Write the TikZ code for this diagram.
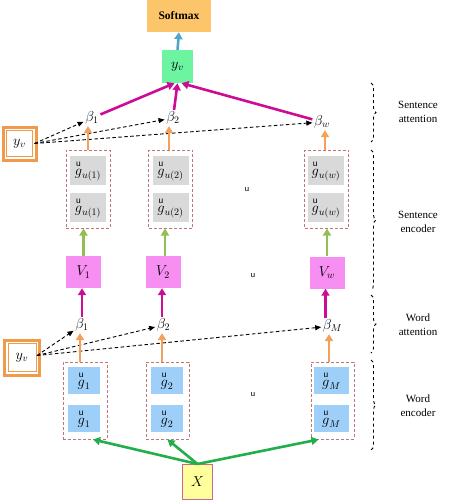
\RequirePackage{fix-cm}
\documentclass[tikz,border=0pt]{standalone}
\usepackage{fontspec}
\usepackage{amsmath}
\setmainfont{Liberation Serif}
\usetikzlibrary{arrows.meta,calc,decorations.pathreplacing}
\definecolor{softc}{HTML}{FDC56A}
\definecolor{bluec}{HTML}{4FA6C6}
\definecolor{mintc}{HTML}{6CF4A0}
\definecolor{magc}{HTML}{CC0C96}
\definecolor{orangec}{HTML}{F5A05A}
\definecolor{orangeb}{HTML}{F09A4C}
\definecolor{dashc}{HTML}{C07676}
\definecolor{grayc}{HTML}{D9D9D9}
\definecolor{olivec}{HTML}{92BE52}
\definecolor{violetc}{HTML}{F78EF2}
\definecolor{bluebox}{HTML}{9ECFF8}
\definecolor{xfill}{HTML}{FFFF9C}
\definecolor{xborder}{HTML}{CC6699}
\definecolor{greenc}{HTML}{22AE4A}
\newcommand{\gvec}[1]{$\overset{\textsf{u}}{g}_{#1}$}
\begin{document}
\begin{tikzpicture}[x=1pt,y=-1pt,
  mfont/.style={font=\fontsize{14.4}{16}\selectfont},
  softbox/.style={fill=softc,minimum width=64pt,minimum height=32pt,inner sep=0pt,font=\fontsize{11.5}{13}\selectfont\bfseries},
  ybox/.style={fill=mintc,minimum width=31pt,minimum height=33pt,inner sep=0pt,mfont},
  betanode/.style={inner sep=1.5pt,mfont},
  yvbox/.style={draw=orangeb,fill=white,line width=3pt,minimum width=#1,minimum height=#1,inner sep=0pt,mfont},
  dashbox/.style={draw=dashc,dashed,line width=1pt,dash pattern=on 3pt off 2pt,minimum width=44pt,minimum height=78pt,inner sep=0pt},
  graybox/.style={fill=grayc,minimum width=36pt,minimum height=29pt,inner sep=0pt,mfont},
  vbox/.style={fill=violetc,minimum width=35pt,minimum height=32pt,inner sep=0pt,mfont},
  bbox/.style={fill=bluebox,minimum width=32pt,minimum height=27pt,inner sep=0pt,mfont},
  xbox/.style={draw=xborder,fill=xfill,line width=1pt,minimum width=30pt,minimum height=35pt,inner sep=0pt,mfont},
  arr/.style={line width=2.6pt,-{Triangle[length=7pt,width=8pt]}},
  dasharr/.style={line width=0.9pt,dash pattern=on 3.5pt off 2.5pt,-{Triangle[length=6pt,width=5pt]}},
  bracestyle/.style={decorate,decoration={brace,amplitude=5pt},line width=0.9pt,dash pattern=on 3pt off 3pt},
  lbl/.style={align=center,font=\fontsize{11}{14}\selectfont},
  umark/.style={font=\sffamily\fontsize{9}{10}\selectfont,inner sep=0pt}]
\useasboundingbox (0,0) rectangle (454,500);

% top
\node[softbox] (soft) at (179,16) {Softmax};
\node[ybox] (ytop) at (177.5,66.5) {$y_v$};
\draw[arr,bluec] (ytop.north) -- (soft.south);

% sentence attention
\node[betanode] (bs1) at (92,118) {$\beta_1$};
\node[betanode] (bs2) at (173,118) {$\beta_2$};
\node[betanode] (bsw) at (322,122) {$\beta_w$};
\draw[arr,magc] (bs1) -- ([xshift=-3pt]ytop.south);
\draw[arr,magc] (bs2) -- (ytop.south);
\draw[arr,magc] (bsw) -- ([xshift=4pt]ytop.south);

\node[yvbox=33pt] (ys) at (19.5,143.5) {$y_v$};
\draw[orangeb,line width=0.8pt] ([shift={(5pt,5pt)}]ys.south west) rectangle ([shift={(-5pt,-5pt)}]ys.north east);
\coordinate (yso) at ([xshift=-3pt]ys.east);
\draw[dasharr] (yso) -- (bs1);
\draw[dasharr] (yso) -- (bs2);
\draw[dasharr] (yso) -- (bsw);

% sentence encoder
\node[dashbox] (sb1) at (88,189) {};
\node[dashbox] (sb2) at (170.5,189) {};
\node[dashbox] (sb3) at (326.5,189) {};
\node[graybox] (sg1a) at (88,170.5) {\gvec{u(1)}};
\node[graybox] (sg1b) at (88,207.5) {\gvec{u(1)}};
\node[graybox] (sg2a) at (170.5,170.5) {\gvec{u(2)}};
\node[graybox] (sg2b) at (170.5,207.5) {\gvec{u(2)}};
\node[graybox] (sg3a) at (326,170.5) {\gvec{u(w)}};
\node[graybox] (sg3b) at (326,207.5) {\gvec{u(w)}};
\node[umark] (u1) at (247,190) {u};
\draw[arr,orangec] (sb1.north) -- (sb1.north |- bs1.south);
\draw[arr,orangec] ([xshift=-1.5pt]sb2.north) -- ([xshift=-1.5pt]sb2.north |- bs2.south);
\draw[arr,orangec] ([xshift=-1.5pt]sb3.north) -- ([xshift=-1.5pt]sb3.north |- bsw.south);

% V
\node[vbox] (v1) at (83.5,272) {$V_1$};
\node[vbox] (v2) at (163,272) {$V_2$};
\node[vbox] (vw) at (327,272.5) {$V_w$};
\node[umark] (u2) at (253,276) {u};
\draw[arr,olivec] (v1.north) -- (v1.north |- sb1.south);
\draw[arr,olivec] ([xshift=2pt]v2.north) -- ([xshift=2pt]v2.north |- sb2.south);
\draw[arr,olivec] (vw.north) -- (vw.north |- sb3.south);

% word attention
\node[betanode] (bw1) at (82,325) {$\beta_1$};
\node[betanode] (bw2) at (163.5,325) {$\beta_2$};
\node[betanode] (bwm) at (332.5,326) {$\beta_M$};
\draw[arr,magc] (bw1.north) -- (bw1.north |- v1.south);
\draw[arr,magc] ([xshift=-1.5pt]bw2.north) -- ([xshift=-1.5pt]bw2.north |- v2.south);
\draw[arr,magc] ([xshift=-7pt]bwm.north) -- ([xshift=-7pt]bwm.north |- vw.south);

\node[yvbox=35pt] (yw) at (22,357.5) {$y_v$};
\draw[orangeb,line width=0.8pt] ([shift={(5pt,5pt)}]yw.south west) rectangle ([shift={(-5pt,-5pt)}]yw.north east);
\coordinate (ywo) at ([xshift=-4pt,yshift=2pt]yw.east);
\draw[dasharr] (ywo) -- (bw1);
\draw[dasharr] (ywo) -- (bw2);
\draw[dasharr] (ywo) -- (bwm);

% word encoder
\node[dashbox,minimum height=77pt] (wb1) at (85,400.5) {};
\node[dashbox,minimum height=77pt,minimum width=43pt] (wb2) at (167.5,400.5) {};
\node[dashbox,minimum height=77pt,minimum width=43pt] (wb3) at (332.5,400.5) {};
\node[bbox] (wg1a) at (84,380.5) {\gvec{1}};
\node[bbox] (wg1b) at (84,418.5) {\gvec{1}};
\node[bbox] (wg2a) at (167,380.5) {\gvec{2}};
\node[bbox] (wg2b) at (167,418.5) {\gvec{2}};
\node[bbox,minimum width=35pt] (wg3a) at (331.5,380.5) {\gvec{M}};
\node[bbox,minimum width=35pt] (wg3b) at (331.5,418.5) {\gvec{M}};
\node[umark] (u3) at (253,395) {u};
\draw[arr,orangec] ([xshift=-5pt]wb1.north) -- ([xshift=-5pt]wb1.north |- bw1.south);
\draw[arr,orangec] ([xshift=-5.5pt]wb2.north) -- ([xshift=-5.5pt]wb2.north |- bw2.south);
\draw[arr,orangec] ([xshift=-3.5pt]wb3.north) -- ([xshift=-3.5pt]wb3.north |- bwm.south);

% X
\node[xbox] (x) at (197.5,482) {$X$};
\draw[arr,greenc] (x.north) -- ([xshift=8pt]wb1.south);
\draw[arr,greenc] (x.north) -- (wb2.south);
\draw[arr,greenc] (x.north) -- ([xshift=-14pt]wb3.south);

% braces and labels
\draw[bracestyle] (371,83) -- (371,142);
\draw[bracestyle] (371,150) -- (371,290);
\draw[bracestyle] (371,295) -- (371,353);
\draw[bracestyle] (371,360) -- (371,450);
\node[lbl] (l1) at (418,112) {Sentence\\attention};
\node[lbl] (l2) at (418,222) {Sentence\\encoder};
\node[lbl] (l3) at (418,325) {Word\\attention};
\node[lbl] (l4) at (418,406) {Word\\encoder};
\end{tikzpicture}
\end{document}
